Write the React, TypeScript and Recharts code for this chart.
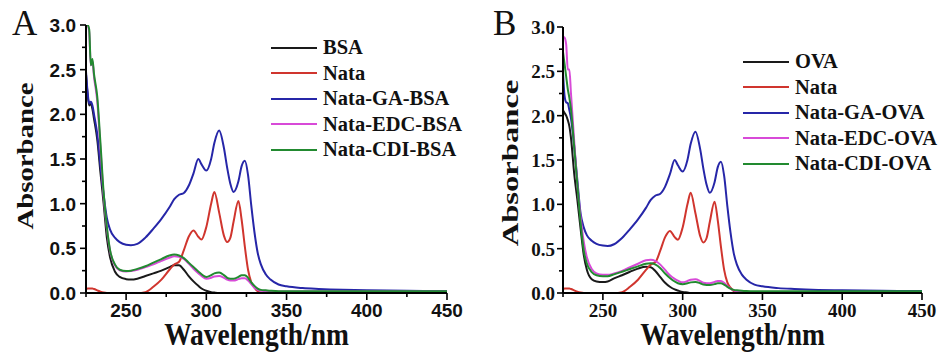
import React from 'react'
import { LineChart, Line, XAxis, YAxis, Legend, Label } from 'recharts'

const wavelengths = [
  225, 226, 227, 228, 229, 230, 232, 234, 236, 238,
  240, 243, 246, 250, 253, 257, 262, 267, 272, 277,
  280, 283, 286, 289, 292, 295, 297, 300, 303, 305,
  308, 311, 313, 315, 317, 320, 322, 324, 326, 328,
  330, 332, 334, 337, 340, 345, 350, 360, 370, 385,
  400, 425, 450,
]

// panel A
const bsa = [
  2.45, 2.22, 2.1, 2.12, 2.06, 1.95, 1.72, 1.35, 1.0, 0.62,
  0.4, 0.24, 0.18, 0.155, 0.15, 0.16, 0.19, 0.22, 0.25, 0.29,
  0.31, 0.31, 0.26, 0.19, 0.13, 0.08, 0.05, 0.025, 0.01, 0.005,
  0, 0, 0, 0, 0, 0, 0, 0, 0, 0,
  0, 0, 0, 0, 0, 0, 0, 0, 0, 0,
  0, 0, 0,
]
const nataA = [
  0.04, 0.05, 0.05, 0.05, 0.05, 0.045, 0.03, 0.015, 0.005, 0,
  0, 0, 0, 0, 0, 0, 0.01, 0.07, 0.15, 0.26,
  0.32, 0.35, 0.48, 0.63, 0.7, 0.63, 0.6, 0.74, 1.0, 1.13,
  0.9, 0.64, 0.57, 0.62, 0.8, 1.03, 0.82, 0.52, 0.26, 0.12,
  0.06, 0.02, 0.005, 0, 0, 0, 0, 0, 0, 0,
  0, 0, 0,
]
const gaBsa = [
  2.48, 2.25, 2.12, 2.14, 2.1, 2.0, 1.78, 1.42, 1.1, 0.84,
  0.71, 0.62, 0.57, 0.54, 0.535, 0.55, 0.62, 0.72, 0.83, 0.96,
  1.05, 1.1, 1.12, 1.2, 1.34, 1.5, 1.44, 1.37, 1.5, 1.68,
  1.82, 1.62, 1.4, 1.22, 1.13, 1.25, 1.42, 1.48, 1.32, 0.98,
  0.68, 0.45, 0.32, 0.21, 0.15, 0.095, 0.075, 0.055, 0.045, 0.035,
  0.03, 0.025, 0.022,
]
const edcBsa = [
  3.0, 3.0, 2.92, 2.55, 2.6, 2.42, 2.15, 1.62, 1.08, 0.72,
  0.47, 0.31, 0.255, 0.24, 0.245, 0.26, 0.29, 0.32, 0.36, 0.395,
  0.41, 0.405, 0.38, 0.33, 0.27, 0.22, 0.19, 0.16, 0.17, 0.185,
  0.19, 0.17, 0.15, 0.14, 0.14, 0.155, 0.165, 0.165, 0.14, 0.1,
  0.06, 0.035, 0.025, 0.02, 0.02, 0.018, 0.018, 0.018, 0.018, 0.018,
  0.018, 0.018, 0.018,
]
const cdiBsa = [
  3.0, 3.0, 2.95, 2.55, 2.62, 2.45, 2.2, 1.68, 1.12, 0.74,
  0.48, 0.32, 0.26, 0.245, 0.25, 0.27, 0.3, 0.34, 0.38, 0.42,
  0.43, 0.42, 0.39, 0.34, 0.29, 0.24, 0.21, 0.18, 0.2, 0.22,
  0.23, 0.2, 0.17, 0.16, 0.16, 0.18, 0.2, 0.2, 0.17, 0.12,
  0.08, 0.05, 0.035, 0.03, 0.025, 0.02, 0.02, 0.02, 0.02, 0.02,
  0.02, 0.02, 0.02,
]

// panel B
const ova = [
  2.06, 2.03, 2.0, 1.95, 1.88, 1.75, 1.35, 1.05, 0.73, 0.43,
  0.26, 0.155, 0.13, 0.124, 0.13, 0.165, 0.2, 0.24, 0.275, 0.295,
  0.29, 0.245, 0.18, 0.115, 0.07, 0.04, 0.028, 0.012, 0.005, 0,
  0, 0, 0, 0, 0, 0, 0, 0, 0, 0,
  0, 0, 0, 0, 0, 0, 0, 0, 0, 0,
  0, 0, 0,
]
const nataB = [
  0.04, 0.05, 0.05, 0.05, 0.05, 0.045, 0.03, 0.015, 0.005, 0,
  0, 0, 0, 0, 0, 0, 0.01, 0.07, 0.15, 0.26,
  0.32, 0.35, 0.48, 0.63, 0.7, 0.63, 0.6, 0.74, 1.0, 1.13,
  0.9, 0.64, 0.57, 0.62, 0.8, 1.03, 0.82, 0.52, 0.26, 0.12,
  0.06, 0.02, 0.005, 0, 0, 0, 0, 0, 0, 0,
  0, 0, 0,
]
const gaOva = [
  2.49, 2.22, 2.15, 2.14, 2.06, 1.97, 1.66, 1.27, 0.9, 0.74,
  0.65, 0.59, 0.555, 0.535, 0.53, 0.55, 0.62, 0.72, 0.83, 0.96,
  1.05, 1.1, 1.12, 1.2, 1.34, 1.5, 1.44, 1.37, 1.5, 1.68,
  1.82, 1.62, 1.4, 1.22, 1.13, 1.25, 1.42, 1.48, 1.32, 0.98,
  0.68, 0.45, 0.32, 0.21, 0.15, 0.095, 0.075, 0.055, 0.045, 0.035,
  0.03, 0.025, 0.022,
]
const edcOva = [
  2.89, 2.88, 2.8, 2.52, 2.52, 2.25, 1.72, 1.22, 0.86, 0.58,
  0.4, 0.27, 0.22, 0.205, 0.205, 0.22, 0.25, 0.29, 0.33, 0.37,
  0.375, 0.36, 0.32, 0.26, 0.2, 0.16, 0.14, 0.12, 0.135, 0.15,
  0.155, 0.135, 0.115, 0.11, 0.11, 0.125, 0.135, 0.135, 0.115, 0.08,
  0.05, 0.03, 0.02, 0.015, 0.012, 0.012, 0.012, 0.012, 0.012, 0.012,
  0.012, 0.012, 0.012,
]
const cdiOva = [
  2.72, 2.58, 2.44, 2.3, 2.2, 2.07, 1.65, 1.22, 0.8, 0.48,
  0.33, 0.235, 0.2, 0.19, 0.19, 0.21, 0.24, 0.27, 0.3, 0.33,
  0.335, 0.32, 0.28, 0.22, 0.17, 0.13, 0.11, 0.1, 0.11, 0.12,
  0.125, 0.11, 0.095, 0.09, 0.09, 0.1, 0.11, 0.11, 0.095, 0.07,
  0.05, 0.035, 0.03, 0.025, 0.022, 0.02, 0.02, 0.02, 0.02, 0.02,
  0.02, 0.02, 0.02,
]

const namesA = ['BSA', 'Nata', 'Nata-GA-BSA', 'Nata-EDC-BSA', 'Nata-CDI-BSA']
const namesB = ['OVA', 'Nata', 'Nata-GA-OVA', 'Nata-EDC-OVA', 'Nata-CDI-OVA']
const colors = ['#1a1a1a', '#d0352e', '#2626a8', '#d84ad8', '#228a30']

const xTicks = [225, 250, 275, 300, 325, 350, 375, 400, 425, 450]
const yTicks = [0, 0.25, 0.5, 0.75, 1, 1.25, 1.5, 1.75, 2, 2.25, 2.5, 2.75, 3]

const SERIF = '"Liberation Serif", "Times New Roman", serif'
const SANS = '"Liberation Sans", Arial, sans-serif'

const buildRows = (series: number[][]) =>
  wavelengths.map((w, i) => {
    const row: any = { w }
    series.forEach((s, k) => (row['s' + k] = s[i]))
    return row
  })

const makeYTick = (font: string, gap: number) => (props: any) => {
  const { x, y, payload } = props
  const v = payload.value
  const major = Math.round(v * 100) % 50 === 0
  return (
    <g>
      <line x1={x} x2={x - (major ? 6 : 4)} y1={y} y2={y} stroke="#000" strokeWidth={1.6} />
      {major && (
        <text x={x - gap} y={y} dy="0.36em" textAnchor="end" fontFamily={font} fontWeight="bold" fontSize={19} fill="#111">
          {v.toFixed(1)}
        </text>
      )}
    </g>
  )
}

const makeXTick = (font: string) => (props: any) => {
  const { x, y, payload } = props
  const v = payload.value
  const major = v % 50 === 0
  return (
    <g>
      <line x1={x} x2={x} y1={y} y2={y + (major ? 7 : 4)} stroke="#000" strokeWidth={1.6} />
      {major && (
        <text x={x} y={y + 24} textAnchor="middle" fontFamily={font} fontWeight="bold" fontSize={19} fill="#111">
          {v}
        </text>
      )}
    </g>
  )
}

// keep the legend in series order (recharts sorts by name otherwise)
const makeLegend = (names: string[]) => (props: any) => {
  const items = [...(props.payload || [])].sort((a: any, b: any) => names.indexOf(a.value) - names.indexOf(b.value))
  return (
    <div>
      {items.map((p: any, i: number) => (
        <div key={i} style={{ display: 'flex', alignItems: 'center', height: 25.5 }}>
          <div style={{ width: 46, height: 2, background: p.color }} />
          <span style={{ marginLeft: 6, fontFamily: SERIF, fontWeight: 'bold', fontSize: 20.5, color: '#111', lineHeight: '25px', whiteSpace: 'nowrap' }}>
            {p.value}
          </span>
        </div>
      ))}
    </div>
  )
}

type PanelProps = {
  left: number
  width: number
  margin: { top: number; right: number; left: number; bottom: number }
  axisWidth: number
  letter: string
  letterX: number
  names: string[]
  series: number[][]
  tickFont: string
  tickGap: number
  legendTop: number
  legendLeft: number
  yTitle: { x: number; y: number; size: number; sy: number }
}

function Panel(p: PanelProps) {
  const rows = buildRows(p.series)
  return (
    <div style={{ position: 'absolute', left: p.left, top: 0 }}>
      <LineChart width={p.width} height={353} data={rows} margin={p.margin}>
        <XAxis
          dataKey="w"
          type="number"
          domain={[225, 450]}
          ticks={xTicks}
          interval={0}
          allowDataOverflow
          height={60}
          tickSize={0}
          tickMargin={0}
          tickLine={false}
          axisLine={{ stroke: '#000', strokeWidth: 2 }}
          tick={makeXTick(p.tickFont)}
        >
          <Label
            content={(lp: any) => {
              const vb = lp.viewBox || { x: 0, width: 0 }
              const cx = vb.x + vb.width / 2 - 10
              return (
                <text transform={`translate(${cx} 345) scale(1 1.14)`} textAnchor="middle" fontFamily={SERIF} fontWeight="bold" fontSize={27.5} fill="#111">
                  Wavelength/nm
                </text>
              )
            }}
          />
        </XAxis>
        <YAxis
          type="number"
          domain={[0, 3]}
          ticks={yTicks}
          interval={0}
          allowDataOverflow
          width={p.axisWidth}
          tickSize={0}
          tickMargin={0}
          tickLine={false}
          axisLine={{ stroke: '#000', strokeWidth: 2 }}
          tick={makeYTick(p.tickFont, p.tickGap)}
        >
          <Label
            content={() => (
              <g>
                <text
                  transform={`translate(${p.yTitle.x} ${p.yTitle.y}) scale(1 ${p.yTitle.sy}) rotate(-90)`}
                  textAnchor="middle"
                  fontFamily={SERIF}
                  fontWeight="bold"
                  fontSize={p.yTitle.size}
                  fill="#111"
                >
                  Absorbance
                </text>
                <text x={p.letterX} y={35} fontFamily={SERIF} fontSize={35} fill="#111">
                  {p.letter}
                </text>
              </g>
            )}
          />
        </YAxis>
        <Legend
          layout="vertical"
          align="center"
          verticalAlign="middle"
          wrapperStyle={{ top: p.legendTop, left: p.legendLeft, width: 'auto' }}
          content={makeLegend(p.names)}
        />
        {p.names.map((n, k) => (
          <Line
            key={n}
            dataKey={'s' + k}
            name={n}
            type="monotone"
            stroke={colors[k]}
            strokeWidth={2}
            dot={false}
            isAnimationActive={false}
          />
        ))}
      </LineChart>
    </div>
  )
}

export default function App() {
  return (
    <div style={{ position: 'absolute', left: 0, top: 0, width: 945, height: 353, background: '#fff' }}>
      <Panel
        left={0}
        width={472}
        margin={{ top: 25, right: 25, left: 0, bottom: 0 }}
        axisWidth={86}
        letter="A"
        letterX={12}
        names={namesA}
        series={[bsa, nataA, gaBsa, edcBsa, cdiBsa]}
        tickFont={SANS}
        tickGap={10}
        legendTop={35}
        legendLeft={271}
        yTitle={{ x: 33, y: 156, size: 24, sy: 1.2 }}
      />
      <Panel
        left={472}
        width={473}
        margin={{ top: 27, right: 23, left: 0, bottom: 0 }}
        axisWidth={91}
        letter="B"
        letterX={21}
        names={namesB}
        series={[ova, nataB, gaOva, edcOva, cdiOva]}
        tickFont={SERIF}
        tickGap={8}
        legendTop={49}
        legendLeft={271}
        yTitle={{ x: 46, y: 163, size: 24, sy: 1.36 }}
      />
    </div>
  )
}
